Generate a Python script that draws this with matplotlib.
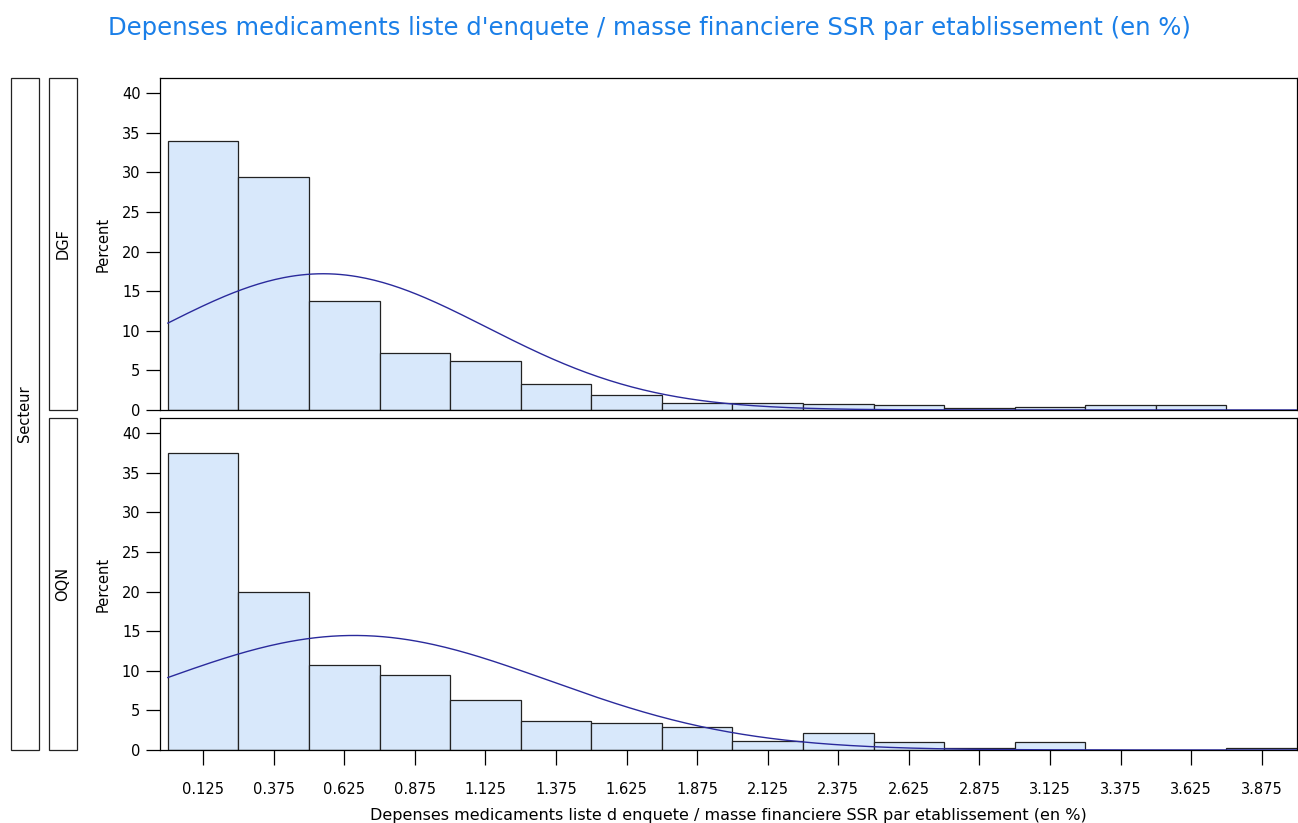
import numpy as np
import matplotlib
matplotlib.use('Agg')
import matplotlib.pyplot as plt
from matplotlib.patches import Rectangle

plt.rcParams['font.family'] = ['DejaVu Sans']

# Classes de l'histogramme (centres, largeur 0.25)
centres = [0.125, 0.375, 0.625, 0.875, 1.125, 1.375, 1.625, 1.875,
           2.125, 2.375, 2.625, 2.875, 3.125, 3.375, 3.625, 3.875]
largeur = 0.25
tick_labels = ['0.125', '0.375', '0.625', '0.875', '1.125', '1.375', '1.625', '1.875',
               '2.125', '2.375', '2.625', '2.875', '3.125', '3.375', '3.625', '3.875']

# Pourcentages par secteur
pct_dgf = [33.9, 29.4, 13.7, 7.2, 6.2, 3.3, 1.9, 0.9,
           0.85, 0.75, 0.6, 0.2, 0.4, 0.6, 0.6, 0.0]
pct_oqn = [37.5, 19.9, 10.7, 9.5, 6.3, 3.7, 3.4, 2.9,
           1.15, 2.2, 1.0, 0.25, 1.0, 0.0, 0.0, 0.3]

# Parametres de la courbe normale
normale = {'DGF': (0.55, 0.58), 'OQN': (0.66, 0.69)}

panneaux = [('DGF', pct_dgf), ('OQN', pct_oqn)]

W, H = 1298, 823
fig = plt.figure(figsize=(W / 100, H / 100), dpi=100)

bleu_titre = '#1a7fe8'
fig.text(0.5, 1 - 28 / H, "Depenses medicaments liste d'enquete / masse financiere SSR par etablissement (en %)",
         ha='center', va='center', fontsize=17.5, color=bleu_titre)

ax_left = 160 / W
ax_w = (1297 - 160) / W
tops = [78, 418]
ax_h_px = 332

for i, (nom, pct) in enumerate(panneaux):
    top = tops[i]
    ax = fig.add_axes([ax_left, 1 - (top + ax_h_px) / H, ax_w, ax_h_px / H])
    ax.bar(centres, pct, width=largeur, color='#d8e8fb', edgecolor='#222222', linewidth=0.9, zorder=2)
    mu, sigma = normale[nom]
    xs = np.linspace(0, 4, 400)
    ys = 100 * largeur * np.exp(-(xs - mu) ** 2 / (2 * sigma ** 2)) / (sigma * np.sqrt(2 * np.pi))
    ax.plot(xs, ys, color='#2a2a9c', linewidth=1.0, zorder=3)
    ax.set_xlim(-0.028, 4.0)
    ax.set_ylim(0, 41.9)
    ax.set_yticks([0, 5, 10, 15, 20, 25, 30, 35, 40])
    ax.tick_params(axis='y', length=10, width=0.9, labelsize=10.5, pad=4)
    ax.set_ylabel('Percent', fontsize=10.5, labelpad=8)
    for s in ax.spines.values():
        s.set_linewidth(0.9)
    if i == 0:
        ax.set_xticks([])
    else:
        ax.set_xticks(centres)
        ax.set_xticklabels(tick_labels)
        ax.tick_params(axis='x', length=11, width=0.9, labelsize=10.5, pad=12)
        ax.set_xlabel("Depenses medicaments liste d enquete / masse financiere SSR par etablissement (en %)",
                      fontsize=11.5, labelpad=8)

    # bandeau du secteur
    fig.patches.append(Rectangle((49 / W, 1 - (top + ax_h_px) / H), 28 / W, ax_h_px / H,
                                 transform=fig.transFigure, fill=False, edgecolor='#222222', linewidth=0.9))
    fig.text(63 / W, 1 - (top + ax_h_px / 2) / H, nom, rotation=90, ha='center', va='center', fontsize=10.5)

# bandeau general
fig.patches.append(Rectangle((11 / W, 1 - 750 / H), 28 / W, (750 - 78) / H,
                             transform=fig.transFigure, fill=False, edgecolor='#222222', linewidth=0.9))
fig.text(25 / W, 1 - 414 / H, 'Secteur', rotation=90, ha='center', va='center', fontsize=10.5)

fig.savefig('out.png', dpi=100)
